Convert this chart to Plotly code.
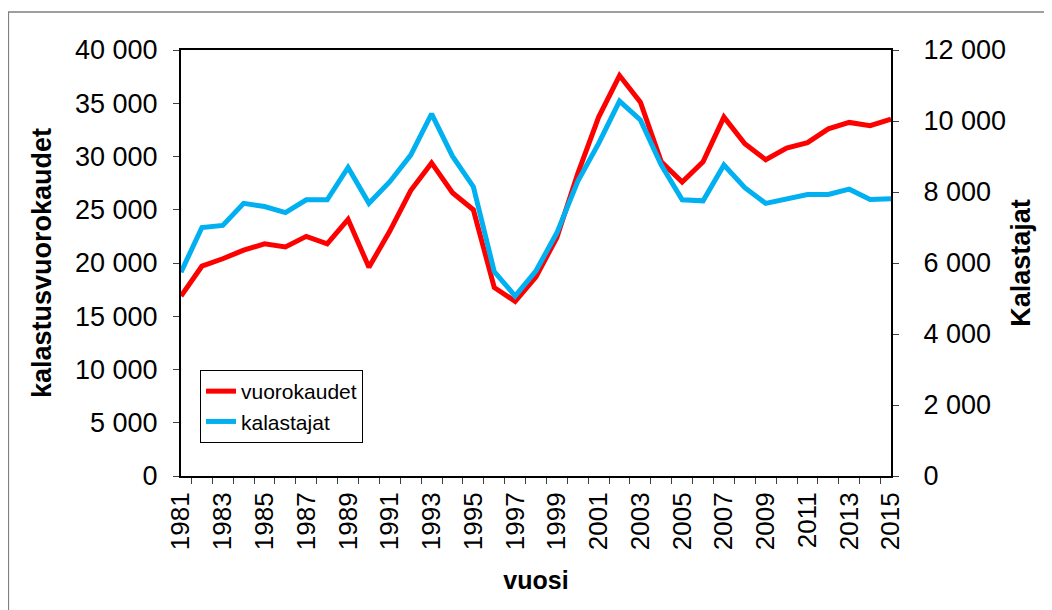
import plotly.graph_objects as go

years = [str(y) for y in range(1981, 2016)]
year_labels = [y if int(y) % 2 == 1 else "" for y in years]

vuorokaudet = [16900, 19700, 20400, 21200, 21800, 21500, 22500, 21800, 24100, 19600,
               23000, 26800, 29400, 26600, 25000, 17700, 16400, 18700, 22400, 28400,
               33700, 37600, 35100, 29500, 27600, 29500, 33700, 31200, 29700, 30800,
               31300, 32600, 33200, 32900, 33500]
kalastajat = [5740, 7000, 7060, 7680, 7590, 7420, 7780, 7780, 8690, 7680,
              8290, 9040, 10200, 9010, 8150, 5760, 5070, 5780, 6850, 8300,
              9370, 10560, 10030, 8760, 7780, 7750, 8760, 8120, 7680, 7820,
              7930, 7930, 8080, 7790, 7810]

left_ticks = list(range(0, 40001, 5000))
right_ticks = list(range(0, 12001, 2000))

FONT = "Arial, Liberation Sans, sans-serif"

fig = go.Figure()
fig.add_trace(go.Scatter(x=years, y=vuorokaudet, name="vuorokaudet", mode="lines",
                         legendgroup="a",
                         line=dict(color="#FF0000", width=5), yaxis="y"))
fig.add_trace(go.Scatter(x=years, y=kalastajat, name="kalastajat", mode="lines",
                         legendgroup="b",
                         line=dict(color="#00B0F0", width=5), yaxis="y2"))

# the page adds an 8px body margin, so the figure is 8px smaller and offset
OFF = 8
W, H = 1052 - OFF, 610 - OFF
L, T = 181 - OFF, 50 - OFF
R = W - (891 - OFF)
B = H - (476 - OFF)
pw, ph = W - L - R, H - T - B

fig.update_layout(
    width=W, height=H,
    margin=dict(l=L, r=R, t=T, b=B, autoexpand=False),
    paper_bgcolor="white", plot_bgcolor="white",
    separators=", ",
    font=dict(family=FONT, color="black"),
    showlegend=True,
    legend=dict(x=(200 - 181) / pw, y=(476 - 370) / ph, xanchor="left", yanchor="top",
                bordercolor="black", borderwidth=1, bgcolor="white",
                tracegroupgap=0,
                font=dict(size=21, family=FONT)),
    xaxis=dict(type="category", tickvals=years, ticktext=year_labels,
               tickson="boundaries", ticks="outside", ticklen=6, tickcolor="#404040",
               tickangle=-90, tickfont=dict(size=26), automargin=False,
               ticklabelstandoff=4,
               showline=True, linecolor="black", linewidth=2, mirror=True,
               showgrid=False, zeroline=False,
               title=dict(text="<b>vuosi</b>", font=dict(size=25), standoff=22)),
    yaxis=dict(range=[0, 40000], tickvals=left_ticks, tickformat=",",
               ticks="outside", ticklen=6, tickcolor="#404040",
               tickfont=dict(size=27), ticklabelstandoff=10, automargin=False,
               showline=True, linecolor="black", linewidth=2, mirror=True,
               showgrid=False, zeroline=False,
               title=dict(text="<b>kalastusvuorokaudet</b>", font=dict(size=27), standoff=16)),
    yaxis2=dict(range=[0, 12000], tickvals=right_ticks, tickformat=",",
                overlaying="y", side="right",
                ticks="outside", ticklen=6, tickcolor="#404040",
                tickfont=dict(size=27), ticklabelstandoff=19, automargin=False,
                showline=True, linecolor="black", linewidth=2,
                showgrid=False, zeroline=False,
                title=dict(text="<b>Kalastajat</b>", font=dict(size=27), standoff=6)),
    shapes=[dict(type="rect", xref="paper", yref="paper",
                 x0=-L / pw + 0.0005, x1=2.0, y0=-1.0, y1=(H - B - 4) / ph,
                 line=dict(color="#808080", width=1.5), fillcolor="rgba(0,0,0,0)",
                 layer="below")],
)

fig.write_html("out.html")
